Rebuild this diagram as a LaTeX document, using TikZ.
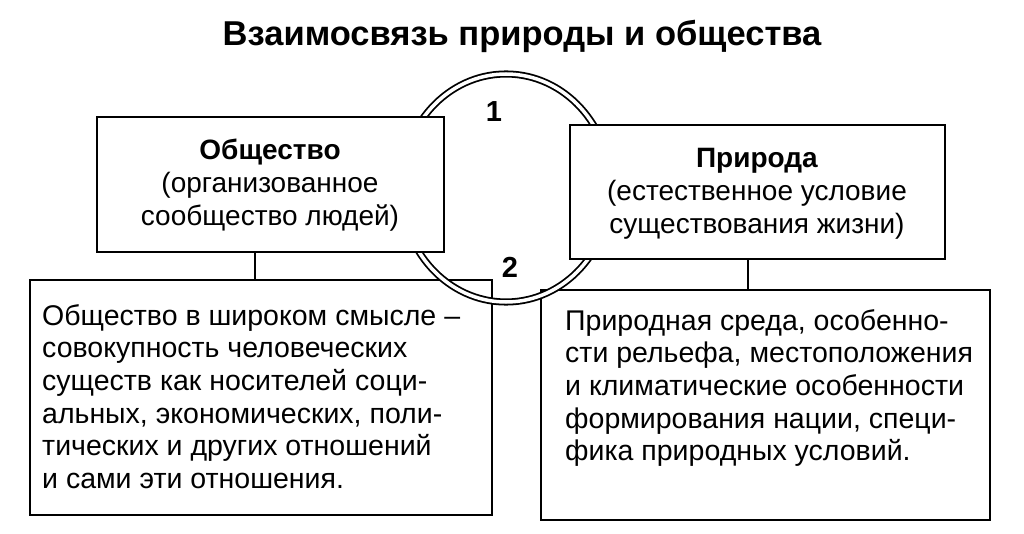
\documentclass[tikz,border=0pt]{standalone}
\usepackage{fontspec}
\setmainfont{Liberation Sans}
\begin{document}
\begin{tikzpicture}[x=1pt,y=-1pt,
  box/.style={draw,line width=1.3pt,fill=white,inner sep=0pt},
  txt/.style={font=\fontsize{28.5}{32.7}\selectfont,align=left,anchor=north west,inner sep=0pt},
  ctr/.style={font=\fontsize{28}{33}\selectfont,align=center}]
\useasboundingbox (0,0) rectangle (1024,534);
\node[font=\bfseries\fontsize{34.5}{38}\selectfont] (title) at (522,36) {Взаимосвязь природы и общества};
\draw[box] (30,280) rectangle (492,515);
\node[txt] (t1) at (42,304) {Общество в широком смысле –\\совокупность человеческих\\существ как носителей соци-\\альных, экономических, поли-\\тических и других отношений\\и сами эти отношения.};
\draw[box] (541,290) rectangle (990,520);
\node[txt] (t2) at (565,309) {Природная среда, особенно-\\сти рельефа, местоположения\\и климатические особенности\\формирования нации, специ-\\фика природных условий.};
\draw[double distance=3.5pt,line width=1.8pt] (506,188) ellipse [x radius=105,y radius=114];
\node[font=\bfseries\fontsize{29}{32}\selectfont] (n1) at (494,112) {1};
\node[font=\bfseries\fontsize{29}{32}\selectfont] (n2) at (510,267) {2};
\draw[box] (97,117) rectangle (444,252);
\node[ctr] (obs) at (270,185) {\textbf{Общество}\\(организованное\\сообщество людей)};
\draw[box] (570,125) rectangle (945,259);
\node[ctr] (pri) at (757,194) {\textbf{Природа}\\(естественное условие\\существования жизни)};
\draw[line width=1.3pt] (255,252) -- (255,280);
\draw[line width=1.3pt] (748,259) -- (748,290);
\end{tikzpicture}
\end{document}
